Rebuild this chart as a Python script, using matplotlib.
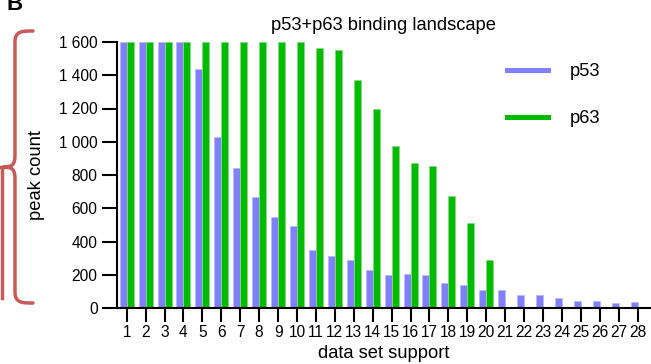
import matplotlib
matplotlib.use("Agg")
import matplotlib.pyplot as plt
from matplotlib.lines import Line2D
from matplotlib.path import Path
from matplotlib.patches import PathPatch
import numpy as np

plt.rcParams['font.family'] = ['Liberation Sans', 'DejaVu Sans']
plt.rcParams['font.size'] = 11.2

# データ
support = list(range(1, 29))
p53 = [1600, 1600, 1600, 1600, 1435, 1028, 844, 668, 549, 493, 351, 315, 289, 229,
       197, 205, 198, 150, 138, 108, 106, 78, 78, 60, 42, 42, 30, 36]
p63 = [1600, 1600, 1600, 1600, 1600, 1600, 1600, 1600, 1600, 1600, 1562, 1550, 1371, 1197,
       976, 872, 856, 674, 511, 289, 0, 0, 0, 0, 0, 0, 0, 0]
yticks = [0, 200, 400, 600, 800, 1000, 1200, 1400, 1600]
ytick_labels = ["0", "200", "400", "600", "800", "1 000", "1 200", "1 400", "1 600"]

BLUE = "#8080ff"
GREEN = "#00bb00"
RED = "#c85a5a"
LABEL_FS = 13.2
TICK_FS = 11.2

W, H = 651, 364
fig = plt.figure(figsize=(W / 100, H / 100), dpi=100)


def fx(x):
    return x / W


def fy(y):
    return 1 - y / H


ax = fig.add_axes([fx(117), fy(308), fx(650) - fx(117), fy(42) - fy(308)])

x = np.array(support)
bw = 0.37
ax.bar(x - bw / 2, p53, width=bw, color=BLUE, edgecolor="#b8b8ff", linewidth=0.6)
ax.bar(x + bw / 2, p63, width=bw, color=GREEN, edgecolor="#80dd80", linewidth=0.6)

ax.set_xlim(0.49, 28.65)
ax.set_ylim(0, 1600)
ax.set_xticks(support)
ax.set_xticklabels([str(s) for s in support])
ax.set_yticks(yticks)
ax.set_yticklabels(ytick_labels)
ax.tick_params(axis='x', direction='out', length=10, width=1.5, pad=2, labelsize=TICK_FS)
ax.tick_params(axis='y', direction='out', length=11, width=1.5, pad=3, labelsize=TICK_FS)
for s in ['top', 'right']:
    ax.spines[s].set_visible(False)
for s in ['left', 'bottom']:
    ax.spines[s].set_linewidth(1.5)
ax.spines['bottom'].set_zorder(5)

ax.set_title("p53+p63 binding landscape", fontsize=LABEL_FS, pad=9)
ax.set_xlabel("data set support", fontsize=LABEL_FS, labelpad=4)
ax.set_ylabel("peak count", fontsize=LABEL_FS, labelpad=10)

handles = [Line2D([], [], color=BLUE, lw=3.6), Line2D([], [], color=GREEN, lw=3.6)]
ax.legend(handles, ["p53", "p63"], frameon=False, loc='upper left',
          bbox_to_anchor=(fx(507), fy(63)), bbox_transform=fig.transFigure,
          borderpad=0, borderaxespad=0,
          handlelength=2.22, handletextpad=1.2, labelspacing=1.65, fontsize=LABEL_FS)

# 左の括弧
verts = [
    (33, 31), (22, 31), (15, 31), (15, 42),
    (15, 155),
    (15, 165), (12, 167), (3, 167),
    (12, 167), (15, 169), (15, 179),
    (15, 292),
    (15, 303), (22, 303), (33, 303),
]
codes = [Path.MOVETO, Path.CURVE4, Path.CURVE4, Path.CURVE4,
         Path.LINETO,
         Path.CURVE4, Path.CURVE4, Path.CURVE4,
         Path.CURVE4, Path.CURVE4, Path.CURVE4,
         Path.LINETO,
         Path.CURVE4, Path.CURVE4, Path.CURVE4]
path = Path([(fx(a), fy(b)) for a, b in verts], codes)
fig.add_artist(PathPatch(path, transform=fig.transFigure, fill=False,
                         edgecolor=RED, lw=2.5, capstyle='round'))
fig.add_artist(Line2D([fx(0), fx(4)], [fy(167), fy(167)], color=RED, lw=2.5,
                      transform=fig.transFigure))
fig.add_artist(Line2D([fx(1.5), fx(1.5)], [fy(167), fy(298)], color=RED, lw=2.5,
                      transform=fig.transFigure))

fig.text(fx(7), fy(10), "B", fontsize=16, fontweight='bold', va='baseline', ha='left')

fig.savefig("out.png", dpi=100)
